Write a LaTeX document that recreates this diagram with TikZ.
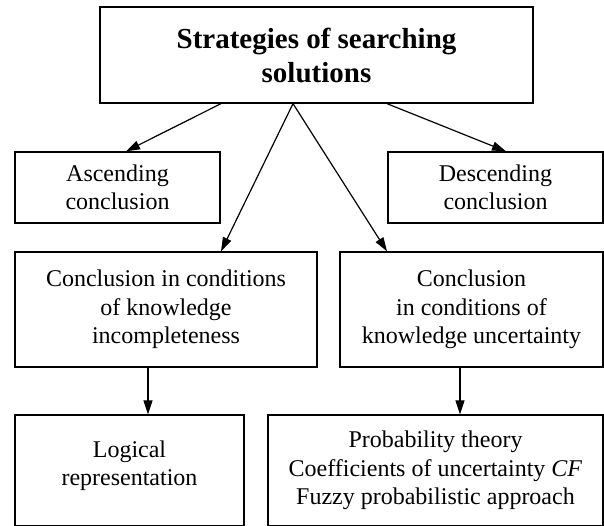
\documentclass[tikz,border=0pt]{standalone}
\usepackage{fontspec}
\setmainfont{Liberation Serif}
\usetikzlibrary{arrows.meta}
\tikzset{
  box/.style={draw, line width=1.3pt, rectangle, align=center, inner sep=2pt,
    font=\fontsize{24}{28.5}\selectfont},
  arr/.style={line width=1.2pt, -{Triangle[length=14pt,width=9pt]}}
}
\begin{document}
\begin{tikzpicture}[x=1pt,y=-1pt]
			\useasboundingbox (0,0) rectangle (604,526);
			\node	(top) at (316.5,55) [box, minimum width=433pt, minimum height=96pt,
				font=\fontsize{29}{34}\selectfont\bfseries] {Strategies of searching\\solutions};
			\node	(asc) at (117.5,187.5) [box, minimum width=205pt, minimum height=71pt] {Ascending\\conclusion};
			\node	(desc) at (495.5,187.5) [box, minimum width=215pt, minimum height=71pt] {Descending\\conclusion};
			\node	(incompl) at (166,309.5) [box, minimum width=302pt, minimum height=115pt] {Conclusion in conditions\\of knowledge\\incompleteness};
			\node	(uncert) at (471.5,309.5) [box, minimum width=263pt, minimum height=115pt] {Conclusion\\in conditions of\\knowledge uncertainty};
			\node	(logic) at (129.5,470.5) [box, minimum width=229pt, minimum height=111pt] {Logical\\representation\\[-14pt]\mbox{}};
			\node	(prob) at (435.5,470.5) [box, minimum width=335pt, minimum height=111pt] {Probability theory\\Coefficients of uncertainty \textit{CF}\\Fuzzy probabilistic approach};
			
			\draw 
			([xshift=-95.5pt]top.south) edge[arr] ([xshift=8.5pt]asc.north)
			([xshift=-23.5pt]top.south) edge[arr] ([xshift=55pt]incompl.north)
			([xshift=-23.5pt]top.south) edge[arr] ([xshift=-84.5pt]uncert.north)
			([xshift=70.5pt]top.south) edge[arr] ([xshift=10.5pt]desc.north)
			([xshift=-18pt]incompl.south) edge[arr] ([xshift=-18pt]incompl.south |- logic.north)
			([xshift=-11.5pt]uncert.south) edge[arr] ([xshift=-11.5pt]uncert.south |- prob.north)
			;
		\end{tikzpicture}
\end{document}
